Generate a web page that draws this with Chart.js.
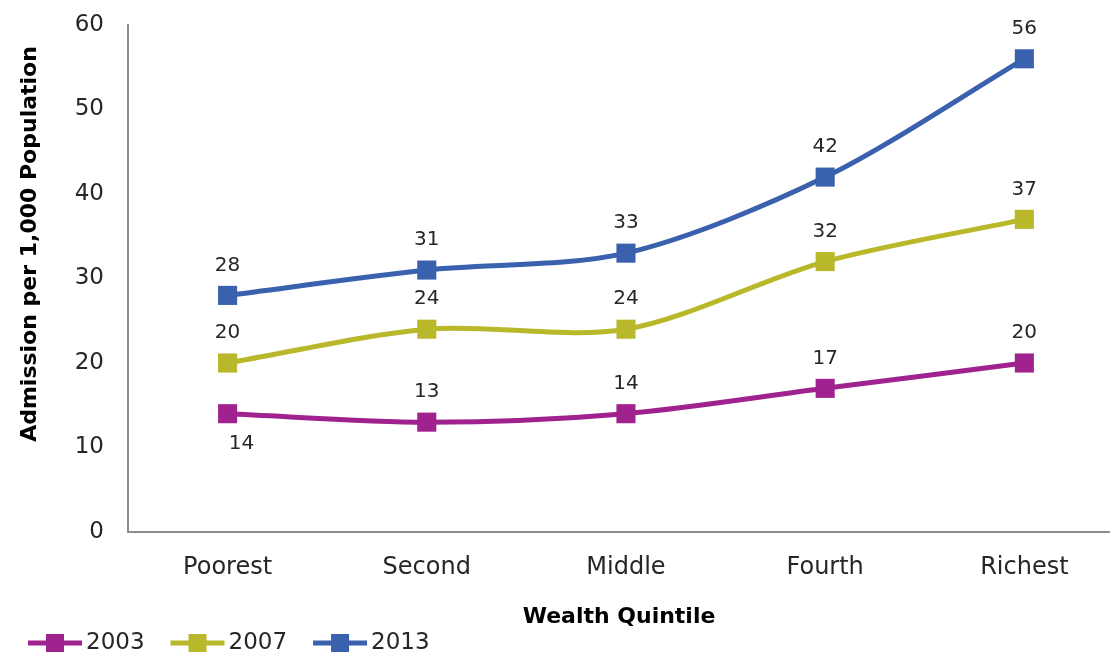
<!DOCTYPE html>
<html>
<head>
<meta charset="utf-8">
<script src="https://cdn.jsdelivr.net/npm/chart.js@4.4.1/dist/chart.umd.min.js"></script>
<style>
  html, body { margin: 0; padding: 0; background: #fff; }
</style>
</head>
<body>
<canvas id="grafico" width="1110" height="657"></canvas>
<script>
// datos del grafico
const quintiles = ['Poorest', 'Second', 'Middle', 'Fourth', 'Richest'];
const anios = ['2003', '2007', '2013'];
const v2003 = [14, 13, 14, 17, 20];
const v2007 = [20, 24, 24, 32, 37];
const v2013 = [28, 31, 33, 42, 56];
const yTicks = [0, 10, 20, 30, 40, 50, 60];

const colores = ['#a0228f', '#b9b82a', '#3961ad'];
const fuente = '"DejaVu Sans", sans-serif';

function serie(valores) {
    return valores.map((v, i) => ({ x: i, y: v }));
}

const datasets = [v2003, v2007, v2013].map((valores, i) => ({
    label: anios[i],
    data: serie(valores),
    borderColor: colores[i],
    backgroundColor: colores[i],
    borderWidth: 5,
    tension: 0.3,
    pointStyle: 'rect',
    pointRadius: 13.5,
    pointHoverRadius: 13.5,
    pointBorderWidth: 0,
    clip: false
}));

// etiquetas de valores, titulo del eje y y leyenda
const extras = {
    id: 'extras',
    afterDatasetsDraw(chart) {
        const ctx = chart.ctx;
        ctx.save();
        ctx.font = '20px ' + fuente;
        ctx.fillStyle = '#262626';
        ctx.textAlign = 'center';
        ctx.textBaseline = 'middle';
        chart.data.datasets.forEach((ds, i) => {
            chart.getDatasetMeta(i).data.forEach((pt, j) => {
                // el 14 de 2003 va debajo del punto
                const abajo = i === 0 && j === 0;
                ctx.fillText(ds.data[j].y, pt.x + (abajo ? 14 : 0), pt.y + (abajo ? 30 : -30));
            });
        });
        ctx.restore();
    },
    afterDraw(chart) {
        const ctx = chart.ctx;
        ctx.save();
        // titulo eje y
        ctx.translate(30, 244);
        ctx.rotate(-Math.PI / 2);
        ctx.font = 'bold 22px ' + fuente;
        ctx.fillStyle = '#000';
        ctx.textAlign = 'center';
        ctx.textBaseline = 'middle';
        ctx.fillText('Admission per 1,000 Population', 0, 0);
        ctx.restore();

        // leyenda
        ctx.save();
        ctx.font = '23px ' + fuente;
        ctx.textBaseline = 'middle';
        ctx.textAlign = 'left';
        let x = 28;
        const y = 643;
        chart.data.datasets.forEach((ds) => {
            ctx.strokeStyle = ds.borderColor;
            ctx.fillStyle = ds.borderColor;
            ctx.lineWidth = 5;
            ctx.beginPath();
            ctx.moveTo(x, y);
            ctx.lineTo(x + 54, y);
            ctx.stroke();
            ctx.fillRect(x + 27 - 9, y - 9, 18, 18);
            ctx.fillStyle = '#262626';
            ctx.fillText(ds.label, x + 58, y);
            x += 58 + ctx.measureText(ds.label).width + 26;
        });
        ctx.restore();
    }
};

new Chart(document.getElementById('grafico'), {
    type: 'line',
    data: { datasets: datasets },
    options: {
        responsive: false,
        animation: false,
        layout: {
            autoPadding: false,
            padding: { top: 25, bottom: 27, left: 0, right: 0 }
        },
        plugins: {
            legend: { display: false },
            tooltip: { enabled: false }
        },
        scales: {
            x: {
                type: 'linear',
                min: -0.5,
                max: 4.43,
                afterBuildTicks: (s) => { s.ticks = quintiles.map((q, i) => ({ value: i })); },
                afterFit: (s) => {
                    s.height = 98;
                    s.paddingLeft = 0;
                    s.paddingRight = 0;
                },
                grid: { display: false, drawTicks: false },
                border: { display: true, color: '#8c8c8c', width: 2 },
                ticks: {
                    padding: 21,
                    color: '#262626',
                    font: { family: fuente, size: 24 },
                    callback: (v) => quintiles[v]
                },
                title: {
                    display: true,
                    text: 'Wealth Quintile',
                    color: '#000',
                    font: { family: fuente, size: 22, weight: 'bold' },
                    padding: { top: 0, bottom: 0 }
                }
            },
            y: {
                min: 0,
                max: 60,
                afterBuildTicks: (s) => { s.ticks = yTicks.map((v) => ({ value: v })); },
                afterFit: (s) => {
                    s.width = 128;
                    s.paddingTop = 0;
                    s.paddingBottom = 0;
                },
                grid: { display: false, drawTicks: false },
                border: { display: true, color: '#8c8c8c', width: 2 },
                ticks: {
                    padding: 24,
                    color: '#262626',
                    font: { family: fuente, size: 23 }
                }
            }
        }
    },
    plugins: [extras]
});
</script>
</body>
</html>
